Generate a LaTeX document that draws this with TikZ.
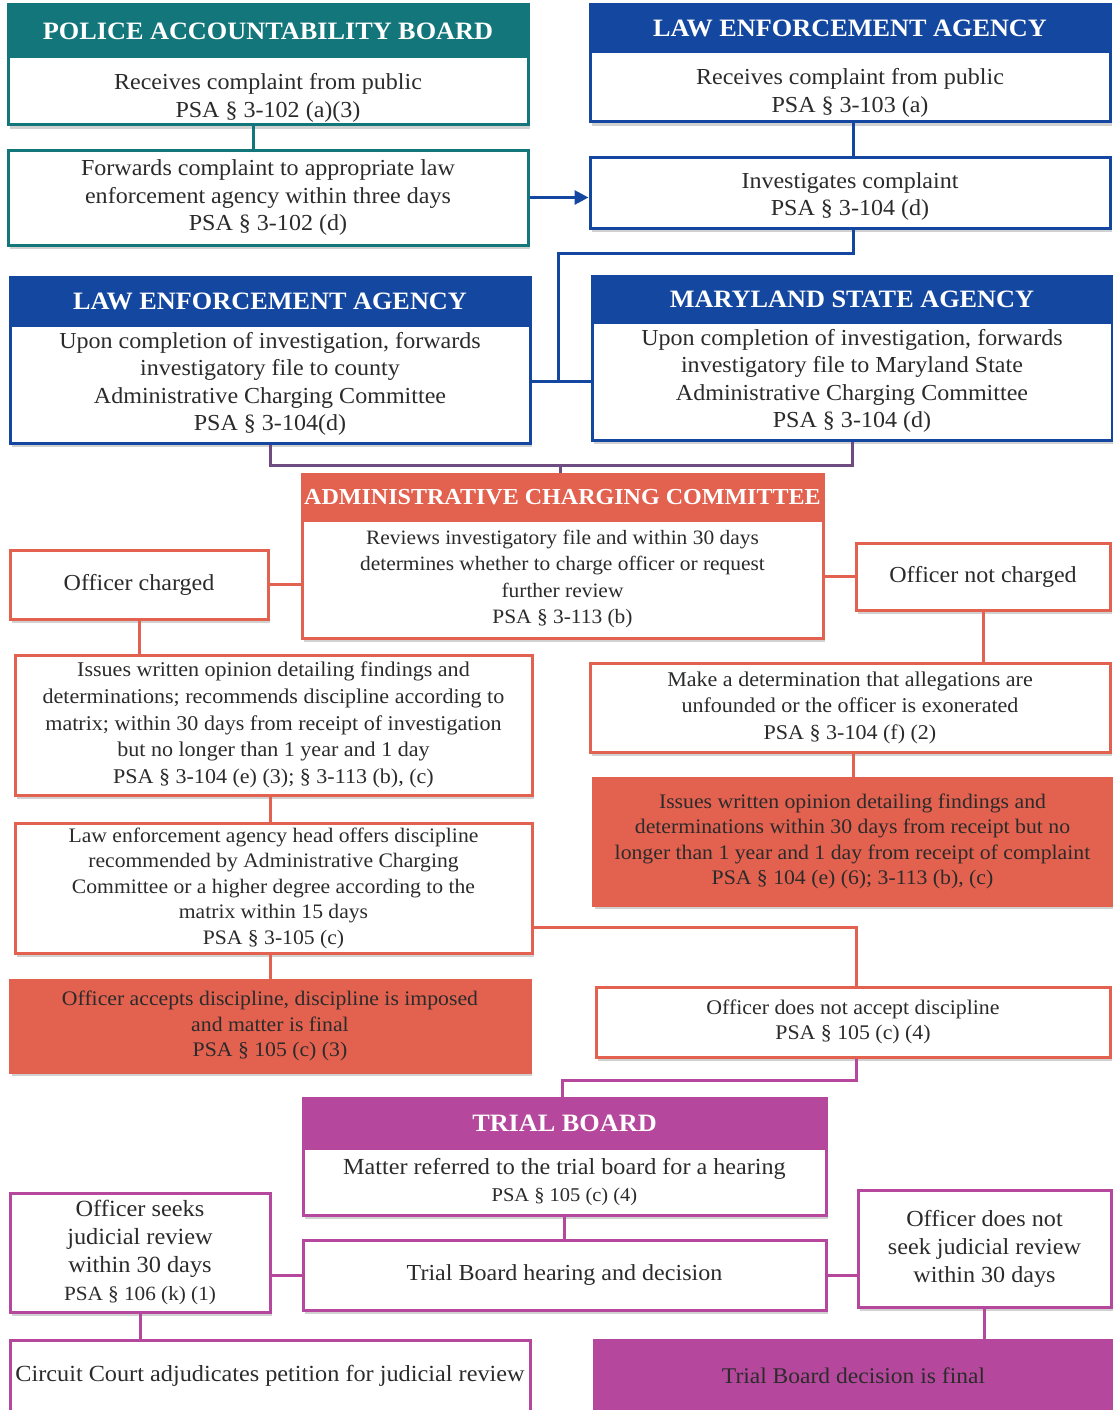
\documentclass[tikz,border=0pt]{standalone}
\usepackage{fontspec}
\setmainfont[FakeStretch=1.05]{Liberation Serif}
\usetikzlibrary{arrows.meta,shadows}
\definecolor{tealc}{HTML}{12767A}
\definecolor{bluec}{HTML}{1447A0}
\definecolor{redc}{HTML}{E3614F}
\definecolor{magc}{HTML}{B5489C}
\definecolor{purc}{HTML}{6E4C82}
\definecolor{txt}{HTML}{2B2B2B}
\newcommand{\fsz}[2]{\fontsize{#1}{#2}\selectfont}
\begin{document}
\begin{tikzpicture}[x=1pt,y=-1pt,
  sz/.style n args={2}{minimum width=#1pt,minimum height=#2pt},
  shd/.style={drop shadow={shadow xshift=2pt,shadow yshift=-4pt,opacity=0.18,fill=black}},
  box/.style={draw=#1,line width=3pt,fill=white,inner sep=0pt,align=center,text=txt,font=\fsz{22.9}{27.5},shd},
  hdr/.style={draw=#1,fill=#1,line width=3pt,inner sep=0pt,text=white,font=\bfseries\fsz{25}{27}},
  fillbox/.style={draw=#1,fill=#1,line width=3pt,inner sep=0pt,align=center,text=txt,font=\fsz{20.7}{25.5},shd},
  conn/.style={draw=#1,line width=3pt}]
\fill[white] (0,0) rectangle (1113,1410);
\useasboundingbox (0,0) rectangle (1113,1410);

% Police Accountability Board
\node[box=tealc,sz={520}{68}] (pabB) at (268,91) {\rule{0pt}{30pt}Receives complaint from public\\PSA § 3-102 (a)(3)};
\node[hdr=tealc,sz={520}{52}] (pabH) at (268,31) {POLICE ACCOUNTABILITY BOARD};
\node[box=tealc,sz={520}{95}] (pabF) at (268,197.5) {Forwards complaint to appropriate law\\enforcement agency within three days\\PSA § 3-102 (d)};

% Law enforcement agency (top)
\node[box=bluec,sz={520}{70}] (leaB) at (850,87) {\rule{0pt}{28pt}Receives complaint from public\\PSA § 3-103 (a)};
\node[hdr=bluec,sz={520}{47}] (leaH) at (850,28.5) {LAW ENFORCEMENT AGENCY};
\node[box=bluec,sz={520}{71}] (leaI) at (850,192.5) {\rule{0pt}{24pt}Investigates complaint\\PSA § 3-104 (d)};

% Second row
\node[box=bluec,sz={520}{118}] (lea2B) at (270,384) {Upon completion of investigation, forwards\\investigatory file to county\\Administrative Charging Committee\\PSA § 3-104(d)};
\node[hdr=bluec,sz={520}{48}] (lea2H) at (270,301) {LAW ENFORCEMENT AGENCY};
\node[box=bluec,sz={520}{118}] (msaB) at (852,381) {Upon completion of investigation, forwards\\investigatory file to Maryland State\\Administrative Charging Committee\\PSA § 3-104 (d)};
\node[hdr=bluec,sz={520}{46}] (msaH) at (852,299) {MARYLAND STATE AGENCY};

% Administrative Charging Committee
\node[box=redc,sz={521}{118},font=\fsz{20.4}{26.5}] (accB) at (562.5,579) {Reviews investigatory file and within 30 days\\determines whether to charge officer or request\\further review\\PSA § 3-113 (b)};
\node[hdr=redc,sz={521}{46},font=\bfseries\fsz{22.9}{26}] (accH) at (562.5,497) {ADMINISTRATIVE CHARGING COMMITTEE};
\node[box=redc,sz={258}{69}] (och) at (139,584.5) {Officer charged};
\node[box=redc,sz={254}{67}] (onc) at (983,576.5) {Officer not charged};
\node[box=redc,sz={517}{140},font=\fsz{21}{26.8}] (iwo) at (273.5,725) {Issues written opinion detailing findings and\\determinations; recommends discipline according to\\matrix; within 30 days from receipt of investigation\\but no longer than 1 year and 1 day\\PSA § 3-104 (e) (3); § 3-113 (b), (c)};
\node[box=redc,sz={520}{89},font=\fsz{21}{26.5}] (mad) at (850,707.5) {Make a determination that allegations are\\unfounded or the officer is exonerated\\PSA § 3-104 (f) (2)};
\node[fillbox=redc,sz={519}{127}] (iwo2) at (852.5,841.5) {Issues written opinion detailing findings and\\determinations within 30 days from receipt but no\\longer than 1 year and 1 day from receipt of complaint\\PSA § 104 (e) (6); 3-113 (b), (c)};
\node[box=redc,sz={517}{130},font=\fsz{20.6}{25.5}] (lah) at (273.5,888) {Law enforcement agency head offers discipline\\recommended by Administrative Charging\\Committee or a higher degree according to the\\matrix within 15 days\\PSA § 3-105 (c)};
\node[fillbox=redc,sz={520}{92}] (oad) at (270,1026) {Officer accepts discipline, discipline is imposed\\and matter is final\\PSA § 105 (c) (3)};
\node[box=redc,sz={514}{70},font=\fsz{20.8}{25}] (ona) at (853,1022) {Officer does not accept discipline\\PSA § 105 (c) (4)};

% Trial board
\node[box=magc,sz={523}{67},font=\fsz{23}{27}] (tbB) at (564.5,1181.5) {Matter referred to the trial board for a hearing\\{\fsz{19.5}{24}PSA § 105 (c) (4)}};
\node[hdr=magc,sz={523}{50}] (tbH) at (564.5,1123) {TRIAL BOARD};
\node[box=magc,sz={523}{70}] (tbh) at (564.5,1275) {Trial Board hearing and decision};
\node[box=magc,sz={260}{119},font=\fsz{23.2}{28}] (osr) at (140,1252.5) {Officer seeks\\judicial review\\within 30 days\\{\fsz{20.2}{28}PSA § 106 (k) (1)}};
\node[box=magc,sz={253}{117},font=\fsz{23}{28}] (onsr) at (984.5,1248.5) {Officer does not\\seek judicial review\\within 30 days};
\node[box=magc,sz={520}{72},font=\fsz{23.1}{27}] (ccj) at (270,1376) {Circuit Court adjudicates petition for judicial review};
\node[fillbox=magc,sz={519}{72},font=\fsz{22.4}{26}] (tbf) at (853.5,1376) {Trial Board decision is final};

% junction coordinates
\coordinate (j1) at (558,381);
\coordinate (j2) at (560,465);
\coordinate (j3) at (856,927);
\coordinate (j4) at (562,1080);

% connectors
\draw[conn=tealc] ([xshift=-15pt]pabB.south) -- ([xshift=-15pt]pabF.north);
\draw[conn=bluec,-{Triangle[length=14pt,width=14pt]}] (pabF.east) -- (pabF.east -| leaI.west);
\draw[conn=bluec] ([xshift=3pt]leaB.south) -- ([xshift=3pt]leaI.north);
\draw[conn=bluec] ([xshift=3pt]leaI.south) -- ++(0,24) -| (j1);
\draw[conn=bluec] (lea2B.east |- j1) -- (msaB.west |- j1);
\draw[conn=purc] (lea2B.south) |- (j2 -| msaB.south) -- (msaB.south);
\draw[conn=purc] (j2) -- (j2 |- accH.north);
\draw[conn=redc] (och.east) -- (och.east -| accB.west);
\draw[conn=redc] (onc.west -| accB.east) -- (onc.west);
\draw[conn=redc] (och.south) -- (och.south |- iwo.north);
\draw[conn=redc] (onc.south) -- (onc.south |- mad.north);
\draw[conn=redc] ([xshift=3pt]mad.south) -- ([xshift=3pt]mad.south |- iwo2.north);
\draw[conn=redc] ([xshift=-3pt]iwo.south) -- ([xshift=-3pt]iwo.south |- lah.north);
\draw[conn=redc] ([xshift=-3pt]lah.south) -- ([xshift=-3pt]lah.south |- oad.north);
\draw[conn=redc] (j3 -| lah.east) -- (j3) -- (j3 |- ona.north);
\draw[conn=magc] ([xshift=3pt]ona.south) |- (j4) -- (j4 |- tbH.north);
\draw[conn=magc] (tbB.south) -- (tbh.north);
\draw[conn=magc] (osr.east |- tbh.west) -- (tbh.west);
\draw[conn=magc] (tbh.east) -- (tbh.east -| onsr.west);
\draw[conn=magc] (osr.south) -- (osr.south |- ccj.north);
\draw[conn=magc] (onsr.south) -- (onsr.south |- tbf.north);
\end{tikzpicture}
\end{document}
